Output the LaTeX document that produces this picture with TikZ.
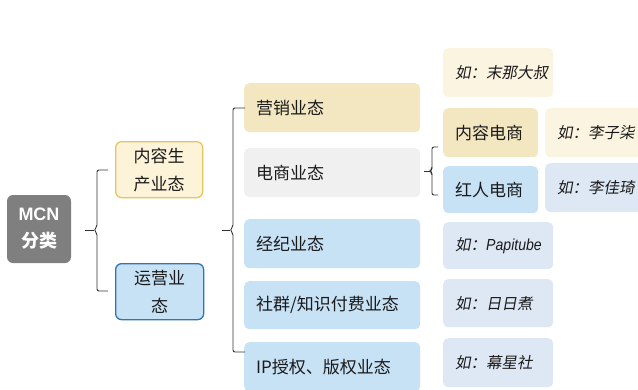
\documentclass[tikz,border=0pt]{standalone}
\usepackage{fontspec}
\setmainfont{Liberation Sans}
\newfontfamily\cjk{Noto Sans CJK SC}
\newfontfamily\cjksl[FakeSlant=0.18]{Noto Sans CJK SC}
\newfontfamily\narrowit[FakeStretch=0.88]{Liberation Sans Italic}
\usetikzlibrary{calc}
\definecolor{mcngray}{HTML}{7F7F7F}
\definecolor{ylfill}{HTML}{FCF3D8}
\definecolor{ylline}{HTML}{E8C55C}
\definecolor{blfill}{HTML}{C7E1F5}
\definecolor{blline}{HTML}{2E75B6}
\definecolor{khaki}{HTML}{F3E7C2}
\definecolor{greyf}{HTML}{F0F0F0}
\definecolor{cream}{HTML}{FBF4E1}
\definecolor{paleblue}{HTML}{DDE8F4}
\definecolor{txt}{HTML}{1A1A1A}
\definecolor{brc}{HTML}{333333}
\tikzset{
  cbox/.style={rounded corners=5pt, anchor=north west, inner xsep=12pt, inner ysep=0pt,
    align=left, text=txt, font=\cjk\fontsize{17}{20}\selectfont},
  ebox/.style={cbox, font=\cjksl\fontsize{15.5}{18}\selectfont},
  pbox/.style={rounded corners=6pt, anchor=north west, inner sep=0pt, align=center,
    text=txt, line width=1.3pt, font=\cjk\fontsize{17}{28}\selectfont},
  br/.style={draw=brc, line width=0.9pt, rounded corners=2pt}
}
\begin{document}
\begin{tikzpicture}[x=1pt,y=-1pt]
\useasboundingbox (0,0) rectangle (638,389);
\clip (0,0) rectangle (638,389);
% level 0
\node[pbox, fill=mcngray, line width=0pt, text=white, minimum width=64pt, minimum height=68pt,
  font=\bfseries\fontsize{18}{27}\selectfont] (mcn) at (7,195) {MCN\\{\cjk 分类}};
% level 1
\node[pbox, fill=ylfill, draw=ylline, minimum width=87pt, minimum height=56pt] (cs) at (115,141) {内容生\\产业态};
\node[pbox, fill=blfill, draw=blline, minimum width=88pt, minimum height=56pt] (yy) at (115,263) {运营业\\态};
% level 2
\node[cbox, fill=khaki, text width=152pt, minimum height=49pt] (yx) at (244,83) {营销业态};
\node[cbox, fill=greyf, text width=152pt, minimum height=49pt] (ds) at (244,148) {电商业态};
\node[cbox, fill=blfill, text width=152pt, minimum height=49pt] (jj) at (244,219) {经纪业态};
\node[cbox, fill=blfill, text width=152pt, minimum height=48pt] (sq) at (244,281) {社群/知识付费业态};
\node[cbox, fill=blfill, text width=152pt, minimum height=49pt] (ip) at (244,342) {IP授权、版权业态};
% level 3
\node[ebox, fill=cream, text width=86pt, minimum height=49pt] (e1) at (443,48) {如：末那大叔};
\node[cbox, fill=khaki, text width=71pt, minimum height=49pt] (nr) at (443,108) {内容电商};
\node[cbox, fill=blfill, text width=71pt, minimum height=47pt] (hr) at (443,166) {红人电商};
\node[ebox, fill=cream, text width=76pt, minimum height=49pt] (e2) at (545,108) {如：李子柒};
\node[ebox, fill=paleblue, text width=76pt, minimum height=49pt] (e3) at (545,163) {如：李佳琦};
\node[ebox, fill=paleblue, text width=86pt, minimum height=47pt] (e4) at (443,222) {如：{\narrowit\fontsize{16}{18}\selectfont Papitube}};
\node[ebox, fill=paleblue, text width=86pt, minimum height=48pt] (e5) at (443,279) {如：日日煮};
\node[ebox, fill=paleblue, text width=86pt, minimum height=49pt] (e6) at (443,338) {如：幕星社};
% braces
\coordinate (b1s) at (85,230);
\coordinate (b1m) at (94,230);
\draw[br] (108,170) -- (97,170) -- (97,227) -- (b1m) -- (97,233) -- (97,291) -- (108,291);
\draw[br] (b1s) -- (b1m);
\coordinate (b2s) at (222,230);
\coordinate (b2m) at (230,230);
\draw[br] (245,108) -- (233,108) -- (233,227) -- (b2m) -- (233,233) -- (233,352) -- (245,352);
\draw[br] (b2s) -- (b2m);
\coordinate (b3s) at (424,171);
\coordinate (b3m) at (430,171);
\draw[br] (438,147) -- (432,147) -- (432,169) -- (b3m) -- (432,173) -- (432,195) -- (438,195);
\draw[br] (b3s) -- (b3m);
\end{tikzpicture}
\end{document}
